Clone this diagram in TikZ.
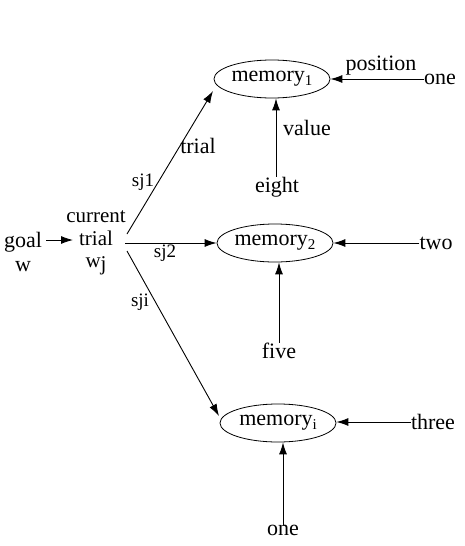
\documentclass[tikz,border=0pt]{standalone}
\usepackage{fontspec}
\setmainfont{Liberation Serif}
\usetikzlibrary{arrows.meta,shapes.geometric}
\newcommand{\msub}[1]{\raisebox{-0.35ex}{\fontsize{15}{15}\selectfont #1}}
\tikzset{
  txt/.style={font=\fontsize{22}{24}\selectfont, inner sep=0pt, align=center},
  lbl/.style={font=\fontsize{19}{20}\selectfont, inner sep=0pt},
  mem/.style={draw, ellipse, line width=0.8pt, minimum width=116pt, minimum height=38pt, inner sep=0pt, font=\fontsize{22}{24}\selectfont},
  arr/.style={line width=0.9pt, -{Latex[length=12pt,width=8pt]}},
}
\begin{document}
\begin{tikzpicture}[x=1pt,y=-1pt]
\useasboundingbox (0,0) rectangle (464,546);
% nodes
\node[txt] (goal) at (23,252) {goal\\w};
\node[txt, font=\fontsize{21}{22.5}\selectfont] (cur) at (96,243) {current\\trial\\w\raisebox{-0.3ex}{j}};
\node[mem] (m1) at (272,79) {memory\msub{1}};
\node[mem] (m2) at (275,243) {memory\msub{2}};
\node[mem] (mi) at (278,423) {memory\msub{i}};
\node[txt] (one1) at (440,79) {one};
\node[txt] (eight) at (277,187) {eight};
\node[txt] (two) at (436,243) {two};
\node[txt] (five) at (279,351) {five};
\node[txt] (three) at (433,422) {three};
\node[txt] (one2) at (283,530) {one};
% branch coordinates
\coordinate (b1) at (127,234);
\coordinate (b2) at (125,243);
\coordinate (b3) at (127,251);
\coordinate (goalr) at (46,240);
\coordinate (curl) at (73,240);
% connectors
\draw[arr] (goalr) -- (curl);
\draw[arr] (b1) -- (213,91);
\draw[arr] (b2) -- (m2.west);
\draw[arr] (b3) -- (219,416);
\draw[arr] (one1.west) -- (one1.west -| m1.east);
\draw[arr] ([xshift=-1pt]eight.north) -- ([xshift=-1pt]eight.north |- m1.south);
\draw[arr] (two.west) -- (two.west -| m2.east);
\draw[arr] (five.north) -- (five.north |- m2.south);
\draw[arr] (three.west) -- (three.west -| mi.east);
\draw[arr] (one2.north) -- (one2.north |- mi.south);
% labels
\node[txt] at (381,66) {position};
\node[txt] at (307,128) {value};
\node[txt] at (198,146) {trial};
\node[lbl] at (143,182) {sj1};
\node[lbl] at (165,253) {sj2};
\node[lbl] at (140,302) {sji};
\end{tikzpicture}
\end{document}
